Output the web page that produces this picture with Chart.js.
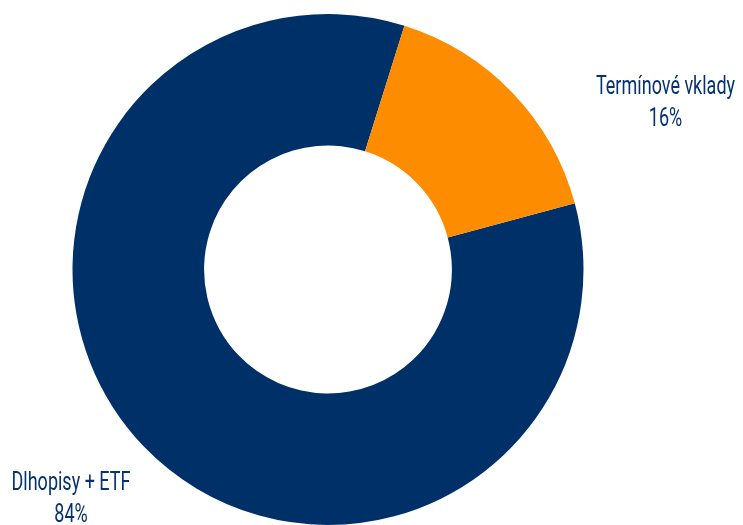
<!DOCTYPE html>
<html>
<head>
<meta charset="utf-8">
<script src="https://cdn.jsdelivr.net/npm/chart.js@4"></script>
<style>
  html, body { margin: 0; padding: 0; background: #fff; }
  #wrap { width: 743px; height: 525px; }
</style>
</head>
<body>
<div id="wrap"><canvas id="chart"></canvas></div>
<script>
const categories = ['Dlhopisy + ETF', 'Termínové vklady'];
const shares = [84, 16];
const sliceColors = ['#003068', '#FD8C00'];

// where each label sits, relative to the doughnut centre, in outer radii
const labelSpots = [
    { dx: -1.006, dy: 0.863 },
    { dx: 1.321, dy: -0.687 },
];
const squeeze = 0.72; // the original uses a condensed face

const sliceLabels = {
    id: 'sliceLabels',
    afterDatasetsDraw(chart) {
        const ctx = chart.ctx;
        const arcs = chart.getDatasetMeta(0).data;
        ctx.save();
        ctx.fillStyle = '#063272';
        ctx.font = '25px Roboto, "Noto Sans", sans-serif';
        ctx.textAlign = 'center';
        ctx.textBaseline = 'alphabetic';
        arcs.forEach((arc, i) => {
            const r = arc.outerRadius;
            const x = arc.x + labelSpots[i].dx * r;
            const y = arc.y + labelSpots[i].dy * r;
            ctx.save();
            ctx.translate(x, y);
            ctx.scale(squeeze, 1);
            ctx.fillText(categories[i], 0, 0);
            ctx.fillText(shares[i] + '%', 0, 32);
            ctx.restore();
        });
        ctx.restore();
    }
};

new Chart(document.getElementById('chart'), {
    type: 'doughnut',
    data: {
        labels: categories,
        datasets: [{
            data: shares,
            backgroundColor: sliceColors,
            borderWidth: 0,
        }]
    },
    options: {
        responsive: true,
        maintainAspectRatio: false,
        animation: false,
        cutout: '48.5%',
        rotation: 75,
        layout: { padding: { top: 14, bottom: 0, left: 0, right: 87 } },
        plugins: {
            legend: { display: false },
            tooltip: { enabled: false },
        }
    },
    plugins: [sliceLabels]
});
</script>
</body>
</html>
